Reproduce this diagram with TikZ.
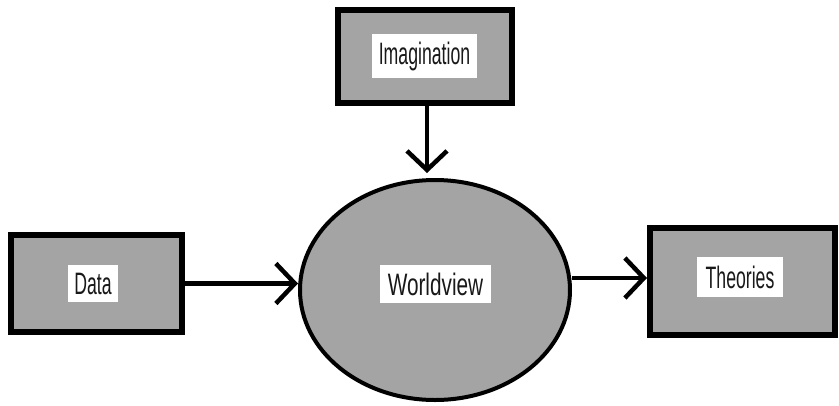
\documentclass[tikz,border=0pt]{standalone}
\usepackage{fontspec}
\newfontfamily\lblfont[FakeStretch=0.57]{Liberation Sans}
\newfontfamily\wvfont[FakeStretch=0.67]{Liberation Sans}
\usetikzlibrary{arrows.meta,shapes.geometric,calc}
\definecolor{boxgray}{RGB}{164,164,164}
\tikzset{
  graybox/.style={draw=black, fill=boxgray, line width=6pt, rectangle, inner sep=0pt},
  lbl/.style={fill=white, inner sep=0pt, font=\lblfont\fontsize{31}{33}\selectfont, text=black!90},
  conn/.style={line width=4.5pt, -{Straight Barb[length=19pt,width=40pt,line width=4.5pt]}},
}
\begin{document}
\begin{tikzpicture}[x=1pt,y=-1pt]
\useasboundingbox (0,0) rectangle (839,405);
\node[graybox, minimum width=174pt, minimum height=93pt] (imag) at (425,56.5) {};
\node[graybox, minimum width=171pt, minimum height=97pt] (data) at (96.5,283.5) {};
\node[graybox, minimum width=185pt, minimum height=107pt] (theo) at (742.5,281.5) {};
\node[draw=black, fill=boxgray, line width=4pt, ellipse, minimum width=270pt, minimum height=220pt, inner sep=0pt] (wv) at (435,290) {};
\node[lbl, minimum width=105pt, minimum height=44pt] (imaglbl) at (424.5,56) {Imagination};
\node[lbl, minimum width=50pt, minimum height=37pt] (datalbl) at (93,283.5) {Data};
\node[lbl, font=\wvfont\fontsize{31}{33}\selectfont, minimum width=111pt, minimum height=38pt] (wvlbl) at (435.5,284) {Worldview};
\node[lbl, minimum width=86pt, minimum height=40pt] (theolbl) at (740,277) {Theories};
\draw[conn] (imag.south -| 427,0) -- ($(imag.south -| 427,0)+(0,67)$);
\draw[conn] (data.east) -- (wv.west |- data.east);
\draw[conn] (wv.east |- 0,278) -- (theo.west |- 0,278);
\end{tikzpicture}
\end{document}
